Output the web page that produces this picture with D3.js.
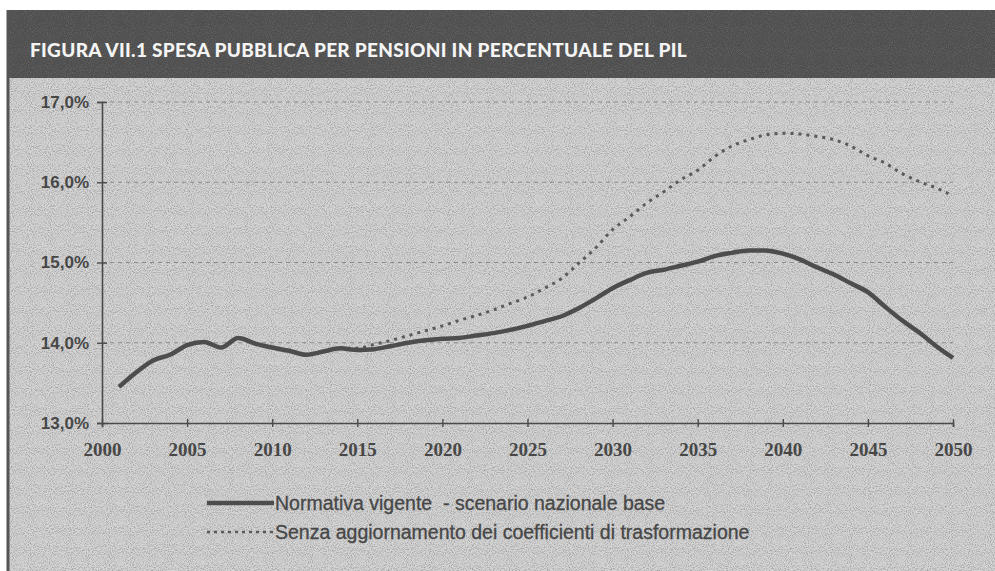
<!DOCTYPE html>
<html>
<head>
<meta charset="utf-8">
<script src="https://cdn.jsdelivr.net/npm/d3@7"></script>
<style>
  html, body { margin: 0; padding: 0; background: #fff; }
  svg { display: block; }
</style>
</head>
<body>
<div id="chart"></div>
<script>
const w = 995,
    h = 571;

const titleText = "FIGURA VII.1 SPESA PUBBLICA PER PENSIONI IN PERCENTUALE DEL PIL";

const years = d3.range(2001, 2051);
const xTicks = [2000, 2005, 2010, 2015, 2020, 2025, 2030, 2035, 2040, 2045, 2050];
const yTicks = [13, 14, 15, 16, 17];

// Normativa vigente - scenario nazionale base
const normativa = [
    13.45, 13.63, 13.78, 13.85, 13.97, 14.01, 13.94, 14.06, 13.99, 13.94,
    13.90, 13.85, 13.89, 13.93, 13.91, 13.92, 13.96, 14.00, 14.03, 14.05,
    14.06, 14.09, 14.12, 14.16, 14.21, 14.27, 14.33, 14.43, 14.55, 14.68,
    14.78, 14.87, 14.91, 14.96, 15.01, 15.08, 15.12, 15.15, 15.15, 15.11,
    15.04, 14.94, 14.85, 14.74, 14.63, 14.45, 14.28, 14.13, 13.96, 13.81
];

// Senza aggiornamento dei coefficienti di trasformazione
const senza = [
    13.45, 13.63, 13.78, 13.85, 13.97, 14.01, 13.94, 14.06, 13.99, 13.94,
    13.90, 13.85, 13.89, 13.93, 13.93, 13.98, 14.03, 14.09, 14.15, 14.21,
    14.28, 14.34, 14.41, 14.49, 14.57, 14.68, 14.80, 14.99, 15.18, 15.41,
    15.57, 15.74, 15.88, 16.03, 16.15, 16.32, 16.45, 16.53, 16.59, 16.61,
    16.60, 16.57, 16.53, 16.45, 16.33, 16.24, 16.11, 16.01, 15.93, 15.83
];

const seriesNames = [
    "Normativa vigente  - scenario nazionale base",
    "Senza aggiornamento dei coefficienti di trasformazione"
];

const ink = "#474747";

const svg = d3.select("#chart").append("svg")
    .attr("width", w)
    .attr("height", h);

// speckled scan texture
const defs = svg.append("defs");
const noise = defs.append("filter")
    .attr("id", "speckle")
    .attr("x", 0).attr("y", 0).attr("width", "100%").attr("height", "100%");
noise.append("feTurbulence")
    .attr("type", "fractalNoise")
    .attr("baseFrequency", 0.95)
    .attr("numOctaves", 1)
    .attr("seed", 7)
    .attr("result", "n");
noise.append("feColorMatrix")
    .attr("in", "n")
    .attr("type", "matrix")
    .attr("values", "0 0 0 0 0.25  0 0 0 0 0.25  0 0 0 0 0.25  2.2 0 0 0 -0.95");

// panel + title band
svg.append("rect")
    .attr("x", 8).attr("y", 78)
    .attr("width", w - 8).attr("height", h - 78)
    .attr("fill", "#d4d4d4");
svg.append("rect")
    .attr("x", 8).attr("y", 78)
    .attr("width", w - 8).attr("height", h - 78)
    .attr("filter", "url(#speckle)")
    .attr("opacity", 0.9);

svg.append("rect")
    .attr("x", 8).attr("y", 10)
    .attr("width", w - 8).attr("height", 68)
    .attr("fill", "#4e4e4e");
svg.append("rect")
    .attr("x", 8).attr("y", 10)
    .attr("width", w - 8).attr("height", 68)
    .attr("filter", "url(#speckle)")
    .attr("opacity", 0.5);

svg.append("line")
    .attr("x1", 8).attr("x2", 8)
    .attr("y1", 10).attr("y2", h)
    .attr("stroke", "#555")
    .attr("stroke-width", 3);

svg.append("text")
    .attr("x", 30)
    .attr("y", 57)
    .attr("fill", "#f4f4f4")
    .style("font-family", "Lato, 'Open Sans', sans-serif")
    .style("font-weight", 900)
    .style("font-size", "19px")
    .style("letter-spacing", "0.3px")
    .text(titleText);

// scales
const xScale = d3.scaleLinear().domain([2000, 2050]).range([102, 953]);
const yScale = d3.scaleLinear().domain([13, 17]).range([423, 102]);

// gridlines
svg.append("g")
    .selectAll("line")
    .data(yTicks.slice(1))
    .enter().append("line")
    .attr("x1", xScale(2000))
    .attr("x2", xScale(2050))
    .attr("y1", d => yScale(d))
    .attr("y2", d => yScale(d))
    .attr("stroke", "#8a8a8a")
    .attr("stroke-width", 1)
    .attr("stroke-dasharray", "4,4");

// axes
const xAxis = d3.axisBottom(xScale)
    .tickValues(xTicks)
    .tickFormat(d3.format("d"))
    .tickSize(4)
    .tickPadding(16);

const yAxis = d3.axisLeft(yScale)
    .tickValues(yTicks)
    .tickFormat(d => d.toFixed(1).replace(".", ",") + "%")
    .tickSize(5)
    .tickPadding(8);

const gx = svg.append("g")
    .attr("transform", `translate(0,${yScale(13)})`)
    .call(xAxis);
gx.selectAll(".tick line").attr("y1", -4);
gx.selectAll("text")
    .style("font-family", "'Liberation Serif', 'Times New Roman', serif")
    .style("font-weight", "bold")
    .style("font-size", "19px")
    .attr("fill", ink);

const gy = svg.append("g")
    .attr("transform", `translate(${xScale(2000)},0)`)
    .call(yAxis);
gy.selectAll(".tick line").attr("x1", 5);
gy.selectAll("text")
    .style("font-family", "'Liberation Sans', Arial, sans-serif")
    .style("font-weight", "bold")
    .style("font-size", "17px")
    .attr("fill", ink);

[gx, gy].forEach(g => {
    g.select(".domain").attr("stroke", "#4a4a4a").attr("stroke-width", 1.6);
    g.selectAll(".tick line").attr("stroke", "#4a4a4a").attr("stroke-width", 1.4);
});

// lines
const line = d3.line()
    .x((d, i) => xScale(years[i]))
    .y(d => yScale(d))
    .curve(d3.curveMonotoneX);

svg.append("path")
    .datum(senza)
    .attr("d", line)
    .attr("fill", "none")
    .attr("stroke", "#5a5a5a")
    .attr("stroke-width", 3)
    .attr("stroke-dasharray", "3,5");

svg.append("path")
    .datum(normativa)
    .attr("d", line)
    .attr("fill", "none")
    .attr("stroke", "#4d4d4d")
    .attr("stroke-width", 4.5);

// legend
const legend = svg.selectAll(".legend")
    .data(seriesNames)
    .enter().append("g")
    .attr("class", "legend")
    .attr("transform", (d, i) => `translate(207,${503 + i * 29})`);
legend.append("line")
    .attr("x1", 0).attr("x2", 67)
    .attr("stroke", (d, i) => i ? "#5a5a5a" : "#4d4d4d")
    .attr("stroke-width", (d, i) => i ? 2.5 : 4.5)
    .attr("stroke-dasharray", (d, i) => i ? "3,4" : null);
legend.append("text")
    .attr("x", 68)
    .attr("dy", "0.35em")
    .attr("fill", ink)
    .style("font-family", "'Liberation Sans', Arial, sans-serif")
    .style("font-size", "19.5px")
    .style("white-space", "pre")
    .style("stroke", ink)
    .style("stroke-width", 0.3)
    .text(d => d);
</script>
</body>
</html>
